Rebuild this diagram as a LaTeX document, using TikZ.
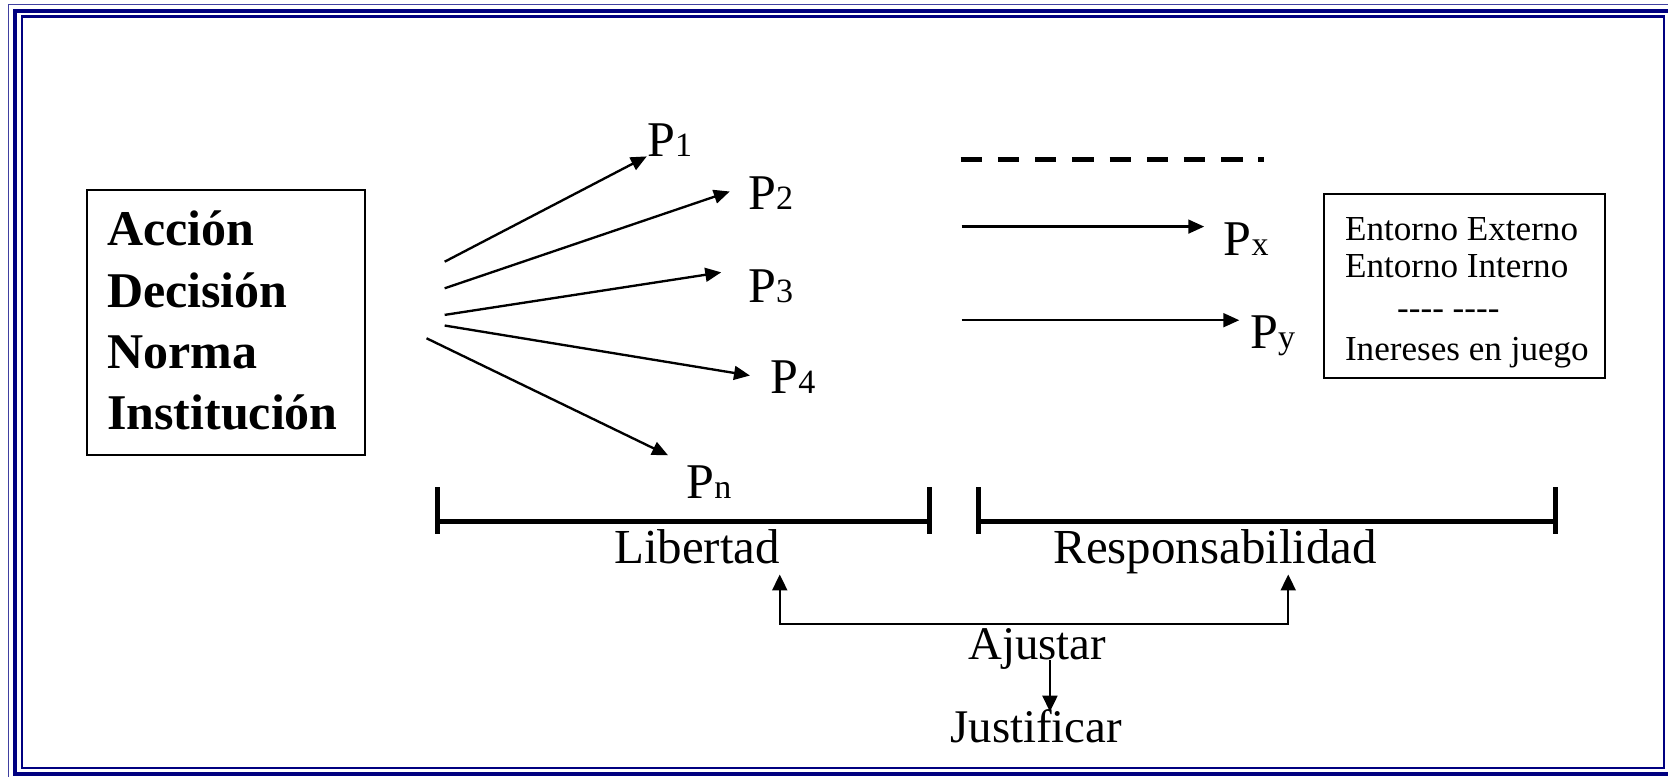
\documentclass[tikz,border=0pt]{standalone}
\usepackage{fontspec}
\setmainfont{Liberation Serif}
\usetikzlibrary{arrows.meta}
\definecolor{navyb}{HTML}{000080}
\newcommand\subsc[1]{{\fontsize{16}{16}\selectfont #1}}
\begin{document}
\begin{tikzpicture}[x=0.5pt,y=-0.5pt,
  tip/.style={-{Triangle[length=7.5pt,width=6.5pt]}},
  conn/.style={line width=1.1pt, tip},
  plbl/.style={anchor=base west, inner sep=0pt, font=\fontsize{23.5}{28}\selectfont},
  boldlbl/.style={anchor=base west, inner sep=0pt, font=\fontsize{23.5}{28}\selectfont\bfseries},
  smalllbl/.style={anchor=base west, inner sep=0pt, font=\fontsize{16.5}{20}\selectfont},
  midlbl/.style={anchor=base west, inner sep=0pt, font=\fontsize{22}{26}\selectfont},
  bigbox/.style={draw, line width=1pt, inner sep=0pt},
  bar/.style={line width=2.2pt}]
\useasboundingbox (0,0) rectangle (1568,730.3);
\clip (0,0) rectangle (1568,730.3);
% page frame
\draw[navyb!75, line width=0.6pt] (8.3,4.2) rectangle (1600,800);
\draw[navyb, line width=2pt] (13.8,10.5) rectangle (1580,727.8);
\draw[navyb, line width=1.15pt] (20.5,15.5) rectangle (1564,721.8);

% left box
\node[bigbox, minimum width=130.5pt, minimum height=124.7pt] (left) at (212.5,303.3) {};
\node[boldlbl] (accion) at (100.3,231) {Acción};
\node[boldlbl] (decision) at (100.3,289) {Decisión};
\node[boldlbl] (norma) at (100.3,346) {Norma};
\node[boldlbl] (institucion) at (100.3,404) {Institución};

% fan arrows
\coordinate (s1) at (418,246); \coordinate (e1) at (608,147);
\coordinate (s2) at (418,271); \coordinate (e2) at (686,180);
\coordinate (s3) at (418,296); \coordinate (e3) at (678,256);
\coordinate (s4) at (418,306); \coordinate (e4) at (705,353);
\coordinate (s5) at (401,318); \coordinate (e5) at (628,428);
\draw[conn] (s1) -- (e1);
\draw[conn] (s2) -- (e2);
\draw[conn] (s3) -- (e3);
\draw[conn] (s4) -- (e4);
\draw[conn] (s5) -- (e5);
\node[plbl] (p1) at (608,147) {P\subsc{1}};
\node[plbl] (p2) at (703,197) {P\subsc{2}};
\node[plbl] (p3) at (703,284) {P\subsc{3}};
\node[plbl] (p4) at (724,370) {P\subsc{4}};
\node[plbl] (pn) at (645,469) {P\subsc{n}};

% dashed line and Px, Py arrows
\coordinate (d1) at (903,150); \coordinate (d2) at (1188,150);
\draw[line width=2.25pt, dash pattern=on 10pt off 7.5pt] (d1) -- (d2);
\coordinate (x1) at (904,213); \coordinate (x2) at (1132,213);
\coordinate (y1) at (904,301); \coordinate (y2) at (1165,301);
\draw[conn] (x1) -- (x2);
\draw[conn] (y1) -- (y2);
\node[plbl] (px) at (1150,240) {P\subsc{x}};
\node[plbl] (py) at (1175,328) {P\subsc{y}};

% right box
\node[bigbox, minimum width=132pt, minimum height=86.5pt] (right) at (1377,268.5) {};
\node[smalllbl] (ext) at (1264,226) {Entorno Externo};
\node[smalllbl] (int) at (1264,261) {Entorno Interno};
\node[smalllbl] (dsh) at (1313,300) {-\kern0pt-\kern0pt-\kern0pt- -\kern0pt-\kern0pt-\kern0pt-};
\node[smalllbl] (intr) at (1264,339) {Inereses en juego};

% bars
\coordinate (L1) at (411,490); \coordinate (L2) at (874,490);
\coordinate (R1) at (920,490); \coordinate (R2) at (1462,490);
\draw[bar] (L1) -- (L2);
\draw[bar] (R1) -- (R2);
\foreach \c in {L1,L2,R1,R2} \draw[bar] ([yshift=16pt]\c) -- ([yshift=-6pt]\c);
\node[plbl, font=\fontsize{23}{28}\selectfont] (lib) at (577,530) {Libertad};
\node[plbl, font=\fontsize{23}{28}\selectfont] (resp) at (990,530) {Responsabilidad};

% Ajustar
\coordinate (aL) at (733,540); \coordinate (aLc) at (733,586.5);
\coordinate (aRc) at (1211,586.5); \coordinate (aR) at (1211,540);
\draw[line width=1.1pt, {Triangle[length=7.5pt,width=7pt]}-{Triangle[length=7.5pt,width=7pt]}] (aL) -- (aLc) -- (aRc) -- (aR);
\node[midlbl] (ajustar) at (910,620) {Ajustar};
\node[midlbl] (justificar) at (893,698) {Justificar};
\coordinate (j1) at (987,620); \coordinate (j2) at (987,669);
\draw[line width=1.1pt, -{Triangle[length=7.5pt,width=7pt]}] (j1) -- (j2);
\end{tikzpicture}
\end{document}
